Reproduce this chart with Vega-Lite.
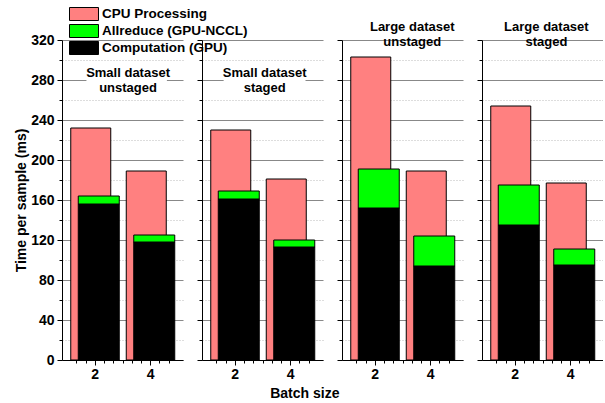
{
  "$schema": "https://vega.github.io/schema/vega-lite/v6.json",
  "padding": {"left": 14, "top": 7, "right": 0, "bottom": 5},
  "config": {
    "font": "Liberation Sans",
    "view": {"stroke": null},
    "axis": {"labelFont": "Liberation Sans", "labelFontWeight": "bold", "labelFontSize": 14, "labelColor": "black", "titleFont": "Liberation Sans", "titleFontWeight": "bold", "titleFontSize": 14, "titleColor": "black", "domainColor": "black", "tickColor": "black", "labelOverlap": false, "labelFlush": false},
    "concat": {"spacing": 13}
  },
  "title": {"text": "Batch size", "orient": "bottom", "anchor": "middle", "fontSize": 14, "fontWeight": "bold", "font": "Liberation Sans", "color": "black", "offset": 6, "dx": -4},
  "data": {"values": [
    {"panel": "P1", "batch": 2, "component": "CPU Processing", "value": 232},
    {"panel": "P1", "batch": 2, "component": "Computation (GPU)", "value": 156},
    {"panel": "P1", "batch": 2, "component": "Allreduce (GPU-NCCL)", "value": 8},
    {"panel": "P1", "batch": 4, "component": "CPU Processing", "value": 189},
    {"panel": "P1", "batch": 4, "component": "Computation (GPU)", "value": 118},
    {"panel": "P1", "batch": 4, "component": "Allreduce (GPU-NCCL)", "value": 7},
    {"panel": "P2", "batch": 2, "component": "CPU Processing", "value": 230},
    {"panel": "P2", "batch": 2, "component": "Computation (GPU)", "value": 161},
    {"panel": "P2", "batch": 2, "component": "Allreduce (GPU-NCCL)", "value": 8},
    {"panel": "P2", "batch": 4, "component": "CPU Processing", "value": 181},
    {"panel": "P2", "batch": 4, "component": "Computation (GPU)", "value": 113},
    {"panel": "P2", "batch": 4, "component": "Allreduce (GPU-NCCL)", "value": 7},
    {"panel": "P3", "batch": 2, "component": "CPU Processing", "value": 303},
    {"panel": "P3", "batch": 2, "component": "Computation (GPU)", "value": 152},
    {"panel": "P3", "batch": 2, "component": "Allreduce (GPU-NCCL)", "value": 39},
    {"panel": "P3", "batch": 4, "component": "CPU Processing", "value": 189},
    {"panel": "P3", "batch": 4, "component": "Computation (GPU)", "value": 94},
    {"panel": "P3", "batch": 4, "component": "Allreduce (GPU-NCCL)", "value": 30},
    {"panel": "P4", "batch": 2, "component": "CPU Processing", "value": 254},
    {"panel": "P4", "batch": 2, "component": "Computation (GPU)", "value": 135},
    {"panel": "P4", "batch": 2, "component": "Allreduce (GPU-NCCL)", "value": 40},
    {"panel": "P4", "batch": 4, "component": "CPU Processing", "value": 177},
    {"panel": "P4", "batch": 4, "component": "Computation (GPU)", "value": 95},
    {"panel": "P4", "batch": 4, "component": "Allreduce (GPU-NCCL)", "value": 16}
  ]},
  "hconcat": [
    {
      "width": 121, "height": 320,
      "transform": [{"filter": "datum.panel == 'P1'"}],
      "layer": [
        {"transform": [{"filter": "datum.component == 'CPU Processing'"}],
         "mark": {"type": "bar", "width": 40, "xOffset": -4, "stroke": "black", "strokeWidth": 1},
         "encoding": {
           "x": {"field": "batch", "type": "quantitative", "scale": {"domain": [1, 5], "nice": false, "zero": false}, "title": null,
             "axis": {"grid": false, "tickCount": 20, "values": [1.3333, 1.6667, 2, 2.3333, 2.6667, 3, 3.3333, 3.6667, 4, 4.3333, 4.6667], "labelExpr": "abs(datum.value-2)<0.01 ? '2' : abs(datum.value-4)<0.01 ? '4' : ''", "tickSize": {"condition": {"test": "abs(datum.value-2)<0.01 || abs(datum.value-4)<0.01", "value": 5}, "value": 3}, "labelPadding": 2}},
           "y": {"field": "value", "type": "quantitative", "scale": {"domain": [0, 320], "nice": false}, "title": "Time per sample (ms)",
             "axis": {"tickCount": 20, "values": [0, 20, 40, 60, 80, 100, 120, 140, 160, 180, 200, 220, 240, 260, 280, 300, 320], "labelExpr": "datum.value % 40 == 0 ? datum.label : ''", "tickSize": {"condition": {"test": "datum.value % 40 == 0", "value": 5}, "value": 3}, "gridDash": {"condition": {"test": "datum.value % 40 == 0", "value": []}, "value": [1, 2]}, "gridColor": {"condition": {"test": "datum.value % 40 == 0", "value": "#888888"}, "value": "#bbbbbb"}, "gridOpacity": 1, "labelPadding": 3, "titlePadding": 2}},
           "color": {"field": "component", "type": "nominal", "scale": {"domain": ["CPU Processing", "Allreduce (GPU-NCCL)", "Computation (GPU)"], "range": ["#FF8080", "#00FF00", "#000000"]},
             "legend": {"title": null, "orient": "none", "legendX": 15, "legendY": -33, "padding": 0, "symbolType": "M-2.23,-1H2.23V1H-2.23Z", "symbolSize": 169, "symbolStrokeColor": "black", "symbolStrokeWidth": 1, "symbolOpacity": 1, "labelFont": "Liberation Sans", "labelFontWeight": "bold", "labelFontSize": 13.5, "labelColor": "black", "rowPadding": -1, "labelOffset": 11}}
         }},
        {"transform": [{"filter": "datum.component != 'CPU Processing'"}],
         "mark": {"type": "bar", "width": 41, "xOffset": 4, "stroke": "black", "strokeWidth": 1},
         "encoding": {
           "x": {"field": "batch", "type": "quantitative"},
           "y": {"field": "value", "type": "quantitative", "stack": "zero"},
           "color": {"field": "component", "type": "nominal"},
           "order": {"field": "component", "sort": "descending"}
         }},
        {"data": {"values": [{}]}, "mark": {"type": "rect", "fill": "white"},
         "encoding": {"x": {"datum": 1.7}, "x2": {"datum": 4.6}, "y": {"datum": 266}, "y2": {"datum": 294}}},
        {"data": {"values": [{}]}, "mark": {"type": "text", "text": ["Small dataset", "unstaged"], "font": "Liberation Sans", "fontWeight": "bold", "fontSize": 13, "baseline": "top", "align": "center", "lineHeight": 15},
         "encoding": {"x": {"datum": 3.2}, "y": {"datum": 293}}}
      ]
    },
    {
      "width": 121, "height": 320,
      "transform": [{"filter": "datum.panel == 'P2'"}],
      "layer": [
        {"transform": [{"filter": "datum.component == 'CPU Processing'"}],
         "mark": {"type": "bar", "width": 40, "xOffset": -4, "stroke": "black", "strokeWidth": 1},
         "encoding": {
           "x": {"field": "batch", "type": "quantitative", "scale": {"domain": [1, 5], "nice": false, "zero": false}, "title": null,
             "axis": {"grid": false, "tickCount": 20, "values": [1.3333, 1.6667, 2, 2.3333, 2.6667, 3, 3.3333, 3.6667, 4, 4.3333, 4.6667], "labelExpr": "abs(datum.value-2)<0.01 ? '2' : abs(datum.value-4)<0.01 ? '4' : ''", "tickSize": {"condition": {"test": "abs(datum.value-2)<0.01 || abs(datum.value-4)<0.01", "value": 5}, "value": 3}, "labelPadding": 2}},
           "y": {"field": "value", "type": "quantitative", "scale": {"domain": [0, 320], "nice": false}, "title": null,
             "axis": {"tickCount": 20, "values": [0, 20, 40, 60, 80, 100, 120, 140, 160, 180, 200, 220, 240, 260, 280, 300, 320], "labels": false, "tickSize": {"condition": {"test": "datum.value % 40 == 0", "value": 5}, "value": 3}, "gridDash": {"condition": {"test": "datum.value % 40 == 0", "value": []}, "value": [1, 2]}, "gridColor": {"condition": {"test": "datum.value % 40 == 0", "value": "#888888"}, "value": "#bbbbbb"}, "gridOpacity": 1}},
           "color": {"field": "component", "type": "nominal"}
         }},
        {"transform": [{"filter": "datum.component != 'CPU Processing'"}],
         "mark": {"type": "bar", "width": 41, "xOffset": 4, "stroke": "black", "strokeWidth": 1},
         "encoding": {
           "x": {"field": "batch", "type": "quantitative"},
           "y": {"field": "value", "type": "quantitative", "stack": "zero"},
           "color": {"field": "component", "type": "nominal"},
           "order": {"field": "component", "sort": "descending"}
         }},
        {"data": {"values": [{}]}, "mark": {"type": "rect", "fill": "white"},
         "encoding": {"x": {"datum": 1.6}, "x2": {"datum": 4.55}, "y": {"datum": 266}, "y2": {"datum": 294}}},
        {"data": {"values": [{}]}, "mark": {"type": "text", "text": ["Small dataset", "staged"], "font": "Liberation Sans", "fontWeight": "bold", "fontSize": 13, "baseline": "top", "align": "center", "lineHeight": 15},
         "encoding": {"x": {"datum": 3.08}, "y": {"datum": 293}}}
      ]
    },
    {
      "width": 121, "height": 320,
      "transform": [{"filter": "datum.panel == 'P3'"}],
      "layer": [
        {"transform": [{"filter": "datum.component == 'CPU Processing'"}],
         "mark": {"type": "bar", "width": 40, "xOffset": -4, "stroke": "black", "strokeWidth": 1},
         "encoding": {
           "x": {"field": "batch", "type": "quantitative", "scale": {"domain": [1, 5], "nice": false, "zero": false}, "title": null,
             "axis": {"grid": false, "tickCount": 20, "values": [1.3333, 1.6667, 2, 2.3333, 2.6667, 3, 3.3333, 3.6667, 4, 4.3333, 4.6667], "labelExpr": "abs(datum.value-2)<0.01 ? '2' : abs(datum.value-4)<0.01 ? '4' : ''", "tickSize": {"condition": {"test": "abs(datum.value-2)<0.01 || abs(datum.value-4)<0.01", "value": 5}, "value": 3}, "labelPadding": 2}},
           "y": {"field": "value", "type": "quantitative", "scale": {"domain": [0, 320], "nice": false}, "title": null,
             "axis": {"tickCount": 20, "values": [0, 20, 40, 60, 80, 100, 120, 140, 160, 180, 200, 220, 240, 260, 280, 300, 320], "labels": false, "tickSize": {"condition": {"test": "datum.value % 40 == 0", "value": 5}, "value": 3}, "gridDash": {"condition": {"test": "datum.value % 40 == 0", "value": []}, "value": [1, 2]}, "gridColor": {"condition": {"test": "datum.value % 40 == 0", "value": "#888888"}, "value": "#bbbbbb"}, "gridOpacity": 1}},
           "color": {"field": "component", "type": "nominal"}
         }},
        {"transform": [{"filter": "datum.component != 'CPU Processing'"}],
         "mark": {"type": "bar", "width": 41, "xOffset": 4, "stroke": "black", "strokeWidth": 1},
         "encoding": {
           "x": {"field": "batch", "type": "quantitative"},
           "y": {"field": "value", "type": "quantitative", "stack": "zero"},
           "color": {"field": "component", "type": "nominal"},
           "order": {"field": "component", "sort": "descending"}
         }},
        {"data": {"values": [{}]}, "mark": {"type": "text", "text": ["Large dataset", "unstaged"], "font": "Liberation Sans", "fontWeight": "bold", "fontSize": 13, "baseline": "top", "align": "center", "lineHeight": 15, "clip": false},
         "encoding": {"x": {"datum": 3.35}, "y": {"datum": 339}}}
      ]
    },
    {
      "width": 121, "height": 320,
      "transform": [{"filter": "datum.panel == 'P4'"}],
      "layer": [
        {"transform": [{"filter": "datum.component == 'CPU Processing'"}],
         "mark": {"type": "bar", "width": 40, "xOffset": -4, "stroke": "black", "strokeWidth": 1},
         "encoding": {
           "x": {"field": "batch", "type": "quantitative", "scale": {"domain": [1, 5], "nice": false, "zero": false}, "title": null,
             "axis": {"grid": false, "tickCount": 20, "values": [1.3333, 1.6667, 2, 2.3333, 2.6667, 3, 3.3333, 3.6667, 4, 4.3333, 4.6667], "labelExpr": "abs(datum.value-2)<0.01 ? '2' : abs(datum.value-4)<0.01 ? '4' : ''", "tickSize": {"condition": {"test": "abs(datum.value-2)<0.01 || abs(datum.value-4)<0.01", "value": 5}, "value": 3}, "labelPadding": 2}},
           "y": {"field": "value", "type": "quantitative", "scale": {"domain": [0, 320], "nice": false}, "title": null,
             "axis": {"tickCount": 20, "values": [0, 20, 40, 60, 80, 100, 120, 140, 160, 180, 200, 220, 240, 260, 280, 300, 320], "labels": false, "tickSize": {"condition": {"test": "datum.value % 40 == 0", "value": 5}, "value": 3}, "gridDash": {"condition": {"test": "datum.value % 40 == 0", "value": []}, "value": [1, 2]}, "gridColor": {"condition": {"test": "datum.value % 40 == 0", "value": "#888888"}, "value": "#bbbbbb"}, "gridOpacity": 1}},
           "color": {"field": "component", "type": "nominal"}
         }},
        {"transform": [{"filter": "datum.component != 'CPU Processing'"}],
         "mark": {"type": "bar", "width": 41, "xOffset": 4, "stroke": "black", "strokeWidth": 1},
         "encoding": {
           "x": {"field": "batch", "type": "quantitative"},
           "y": {"field": "value", "type": "quantitative", "stack": "zero"},
           "color": {"field": "component", "type": "nominal"},
           "order": {"field": "component", "sort": "descending"}
         }},
        {"data": {"values": [{}]}, "mark": {"type": "text", "text": ["Large dataset", "staged"], "font": "Liberation Sans", "fontWeight": "bold", "fontSize": 13, "baseline": "top", "align": "center", "lineHeight": 15, "clip": false},
         "encoding": {"x": {"datum": 3.14}, "y": {"datum": 339}}}
      ]
    }
  ]
}
